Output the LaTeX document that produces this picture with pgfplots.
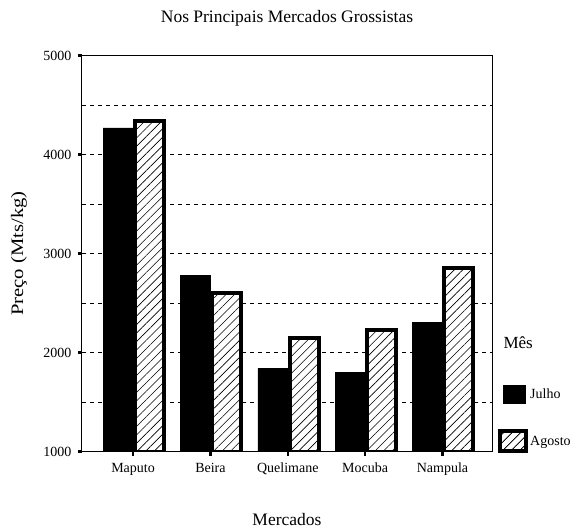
\documentclass[border=0pt]{standalone}
\usepackage{fontspec}
\setmainfont{Liberation Serif}
\usepackage{graphicx}
\usepackage{pgfplots}
\usepackage{pgfplotstable}
\pgfplotsset{compat=1.18}
\usetikzlibrary{patterns.meta}

\pgfplotstableread{
x julho agosto
0 4270 4340
1 2780 2600
2 1840 2145
3 1805 2225
4 2305 2855
}\data

\begin{document}
\begin{tikzpicture}
\begin{axis}[
  scale only axis, width=410pt, height=396pt,
  clip mode=individual,
  xmin=-0.66, xmax=4.64, ymin=1000, ymax=5000,
  xtick={0,1,2,3,4},
  xticklabels={Maputo,Beira,Quelimane,Mocuba,Nampula},
  ytick={1000,2000,3000,4000,5000},
  minor ytick={1500,2500,3500,4500},
  ymajorgrids, yminorgrids,
  major grid style={black, line width=1pt, dash pattern=on 4pt off 4pt},
  minor grid style={black, line width=1pt, dash pattern=on 4pt off 4pt},
  minor tick length=0pt,
  major tick length=4pt,
  tick align=outside,
  tick style={black, line width=2.5pt},
  xtick pos=bottom, ytick pos=left,
  axis line style={line width=1pt},
  /pgf/number format/1000 sep={},
  /pgf/number format/assume math mode=true,
  tick label style={font=\fontsize{14}{16}\selectfont},
  xticklabel style={yshift=-4pt},
  yticklabel style={xshift=-3pt},
  title={Nos Principais Mercados Grossistas},
  title style={font=\fontsize{17.5}{20}\selectfont, at={(rel axis cs:0.5,1)}, anchor=base, yshift=27.5pt},
  xlabel={Mercados},
  xlabel style={font=\fontsize{17.5}{20}\selectfont, at={(rel axis cs:0.5,0)}, anchor=center, inner sep=0pt, yshift=-68pt},
  ylabel={\scalebox{1.18}[1]{Preço (Mts/kg)}},
  ylabel style={font=\fontsize{17.5}{20}\selectfont, at={(rel axis cs:-0.1537,0.5)}, anchor=center},
  legend style={draw=none, fill=none, at={(1,0)}, anchor=south west, xshift=3pt, yshift=-4pt,
    row sep=26pt, font=\fontsize{14}{16}\selectfont},
  legend cell align=left,
]
\addplot[ybar, bar width=30pt, bar shift=-15pt, fill=black, draw=black,
  legend image code/.code={\draw[fill=black,draw=black] (3pt,-9pt) rectangle (25pt,9pt);}]
  table[x=x, y=julho] {\data};
\addlegendentry{Julho}
\addplot[ybar, bar width=29pt, bar shift=16.5pt, draw=black, line width=4pt, fill=white,
  postaction={pattern={Lines[angle=45,distance=6pt,line width=0.6pt]}},
  legend image code/.code={\draw[draw=black,line width=4pt,fill=white,
     postaction={pattern={Lines[angle=45,distance=6pt,line width=0.6pt]}}] (0pt,-10pt) rectangle (26pt,10pt);}]
  table[x=x, y=agosto] {\data};
\addlegendentry{Agosto}
\node[anchor=west, font=\fontsize{17}{20}\selectfont] at (rel axis cs:1,0.2745) [xshift=8pt] {Mês};
\end{axis}
\pgfresetboundingbox
\path ([xshift=-82pt,yshift=-77.3pt]current axis.south west) rectangle ([xshift=80pt,yshift=55.7pt]current axis.north east);
\end{tikzpicture}
\end{document}
